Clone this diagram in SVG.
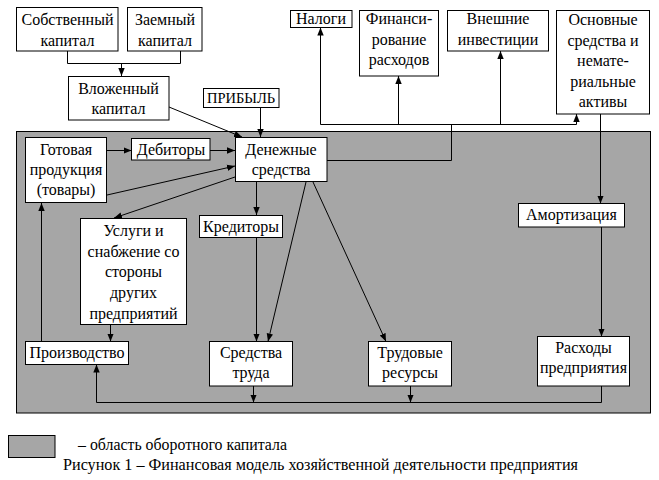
<svg xmlns="http://www.w3.org/2000/svg" width="659" height="480" viewBox="0 0 659 480">
<defs>
<style>
.b{fill:#fff;stroke:#000;stroke-width:1}
.t{font-size:16px;fill:#000;text-anchor:middle}
.c{fill:none;stroke:#000;stroke-width:1}
.ca{font-size:16px;fill:#000}
</style>
<marker id="a" markerWidth="8" markerHeight="8" viewBox="0 0 8 8" refX="8" refY="4" orient="auto" markerUnits="userSpaceOnUse">
<path d="M0,0.8 L8,4 L0,7.2 Z" fill="#000"/>
</marker>
</defs>
<rect width="659" height="480" fill="#fff"/>
<rect id="area" x="16.5" y="131.5" width="634" height="281.5" fill="#A6A6A6" stroke="#000" stroke-width="1"/>

<g id="connectors">
<path class="c" d="M67.5,51 V63.5 H180.5 V51"/>
<path class="c" d="M121.5,63.5 V76" marker-end="url(#a)"/>
<path class="c" d="M169,107 L242,137" marker-end="url(#a)"/>
<path class="c" d="M260.5,107 V137" marker-end="url(#a)"/>
<path class="c" d="M107,150.5 H131.5" marker-end="url(#a)"/>
<path class="c" d="M210,150.5 H235" marker-end="url(#a)"/>
<path class="c" d="M107,195 L235,166" marker-end="url(#a)"/>
<path class="c" d="M235,177 L114,218" marker-end="url(#a)"/>
<path class="c" d="M256.5,182 V215" marker-end="url(#a)"/>
<path class="c" d="M256.5,237.5 V341.5" marker-end="url(#a)"/>
<path class="c" d="M306,182 L268,341.5" marker-end="url(#a)"/>
<path class="c" d="M313,182 L386,341.5" marker-end="url(#a)"/>
<path class="c" d="M110.5,324.5 V341.5" marker-end="url(#a)"/>
<path class="c" d="M41.5,341.5 V203" marker-end="url(#a)"/>
<path class="c" d="M601.5,386 V402.5 H96.5 V364.5" marker-end="url(#a)"/>
<path class="c" d="M253.5,386 V402.5" marker-end="url(#a)"/>
<path class="c" d="M410.5,386 V402.5" marker-end="url(#a)"/>
<path class="c" d="M327,160.5 H451.5 V124.5"/>
<path class="c" d="M320.5,124.5 H576.5"/>
<path class="c" d="M320.5,124.5 V27.5" marker-end="url(#a)"/>
<path class="c" d="M398.5,124.5 V76" marker-end="url(#a)"/>
<path class="c" d="M500.5,124.5 V51" marker-end="url(#a)"/>
<path class="c" d="M576.5,124.5 V114" marker-end="url(#a)"/>
<path class="c" d="M600.5,114 V203.5" marker-end="url(#a)"/>
<path class="c" d="M601.5,227 V336.5" marker-end="url(#a)"/>
</g>

<g id="nodes" font-family="Liberation Serif, serif">
<g id="sobstvenny"><rect class="b" x="16.5" y="7.5" width="101.5" height="43.5"/><text class="t" x="67.5" y="25">Собственный</text><text class="t" x="67.5" y="45.5">капитал</text></g>
<g id="zaemny"><rect class="b" x="127.5" y="7.5" width="74.5" height="43.5"/><text class="t" x="165" y="25">Заемный</text><text class="t" x="165" y="45.5">капитал</text></g>
<g id="vlozhenny"><rect class="b" x="68.5" y="76.5" width="100.5" height="43.5"/><text class="t" x="118.5" y="93.5">Вложенный</text><text class="t" x="118.5" y="114">капитал</text></g>
<g id="pribyl"><rect class="b" x="203.5" y="88.5" width="75.5" height="19"/><text class="t" x="241" y="103" style="font-size:14.5px">ПРИБЫЛЬ</text></g>
<g id="nalogi"><rect class="b" x="290.5" y="10.5" width="61.5" height="17"/><text class="t" x="321" y="24">Налоги</text></g>
<g id="finansirovanie"><rect class="b" x="359.5" y="10.5" width="79" height="65.5"/><text class="t" x="399" y="24">Финанси-</text><text class="t" x="399" y="44.5">рование</text><text class="t" x="399" y="65">расходов</text></g>
<g id="vneshnie"><rect class="b" x="447.5" y="10.5" width="101" height="40.5"/><text class="t" x="498" y="24">Внешние</text><text class="t" x="498" y="44.5">инвестиции</text></g>
<g id="osnovnye"><rect class="b" x="556.5" y="10.5" width="93" height="103.5"/><text class="t" x="603" y="25">Основные</text><text class="t" x="603" y="45.5">средства и</text><text class="t" x="603" y="66">немате-</text><text class="t" x="603" y="86.5">риальные</text><text class="t" x="603" y="107">активы</text></g>
<g id="gotovaya"><rect class="b" x="25.5" y="137.5" width="81" height="65"/><text class="t" x="66" y="155">Готовая</text><text class="t" x="66" y="175">продукция</text><text class="t" x="66" y="195">(товары)</text></g>
<g id="debitory"><rect class="b" x="131.5" y="138.5" width="78.5" height="21.5"/><text class="t" x="171" y="154.5">Дебиторы</text></g>
<g id="denezhnye"><rect class="b" x="235.5" y="137.5" width="91.5" height="44"/><text class="t" x="281" y="154.5">Денежные</text><text class="t" x="281" y="175">средства</text></g>
<g id="kreditory"><rect class="b" x="199.5" y="215.5" width="83" height="22"/><text class="t" x="241" y="231.5">Кредиторы</text></g>
<g id="uslugi"><rect class="b" x="80.5" y="218.5" width="106" height="106"/><text class="t" x="133.5" y="236">Услуги и</text><text class="t" x="133.5" y="256.5">снабжение со</text><text class="t" x="133.5" y="277">стороны</text><text class="t" x="133.5" y="297.5">других</text><text class="t" x="133.5" y="318.5">предприятий</text></g>
<g id="amortizatsiya"><rect class="b" x="518.5" y="203.5" width="106" height="23.5"/><text class="t" x="571.5" y="220">Амортизация</text></g>
<g id="proizvodstvo"><rect class="b" x="25.5" y="341.5" width="103" height="23"/><text class="t" x="77" y="357.5">Производство</text></g>
<g id="sredstva_truda"><rect class="b" x="209.5" y="341.5" width="83" height="44.5"/><text class="t" x="251" y="358">Средства</text><text class="t" x="251" y="378">труда</text></g>
<g id="trudovye"><rect class="b" x="368.5" y="341.5" width="83" height="44.5"/><text class="t" x="410" y="358">Трудовые</text><text class="t" x="410" y="378">ресурсы</text></g>
<g id="raskhody"><rect class="b" x="537.5" y="336.5" width="92" height="49.5"/><text class="t" x="583.5" y="352.5">Расходы</text><text class="t" x="583.5" y="373">предприятия</text></g>
</g>

<g id="legend" font-family="Liberation Serif, serif">
<rect x="8.5" y="435.5" width="46.5" height="22" fill="#A6A6A6" stroke="#000" stroke-width="1"/>
<text class="ca" x="78" y="450" textLength="209" lengthAdjust="spacingAndGlyphs">– область оборотного капитала</text>
<text class="ca" x="63" y="470" textLength="515" lengthAdjust="spacingAndGlyphs">Рисунок 1 – Финансовая модель хозяйственной деятельности предприятия</text>
</g>
</svg>
